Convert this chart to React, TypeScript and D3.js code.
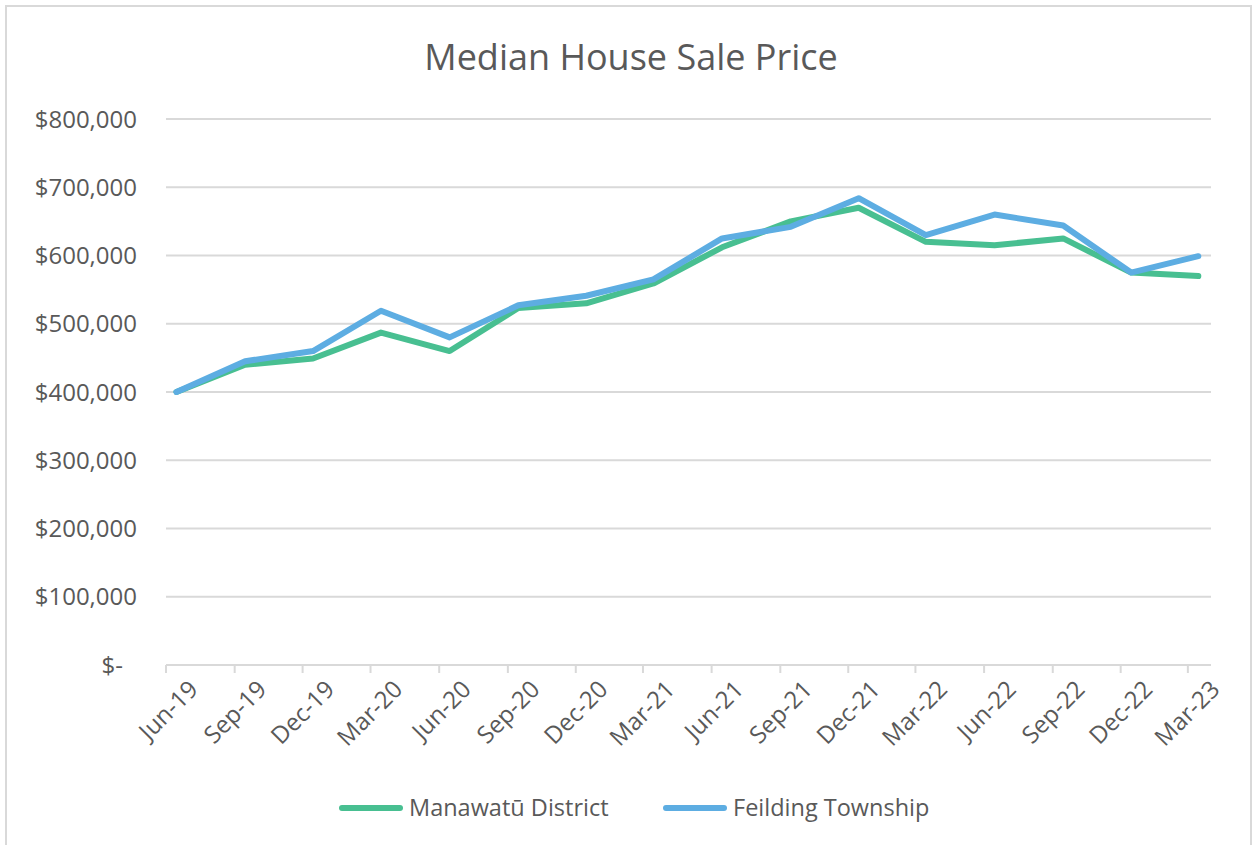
import React from "react";
import * as d3 from "d3";

const categories = ["Jun-19","Sep-19","Dec-19","Mar-20","Jun-20","Sep-20","Dec-20","Mar-21","Jun-21","Sep-21","Dec-21","Mar-22","Jun-22","Sep-22","Dec-22","Mar-23"];
const manawatu = [400000,440000,449000,487000,460000,523000,530000,559000,612000,650000,670000,620000,615000,625000,575000,570000];
const feilding = [400000,445000,460000,519000,480000,527000,541000,565000,625000,642000,684000,630000,660000,644000,575000,599000];
const yTicks = [0,100000,200000,300000,400000,500000,600000,700000,800000];
const seriesNames = ["Manawatū District","Feilding Township"];
const seriesColors = ["#48BF91","#5DADE2"];

const W = 1254, H = 845;
const FONT = "'Open Sans', sans-serif";
const TXT = "#595959";
const GRID = "#d9d9d9";

export default function App() {
  const tickDates = categories.map((_, i) => new Date(2019, 5 + 3 * i, 1));
  const pointDates = categories.map((_, i) => new Date(2019, 5 + 3 * i, 15));
  const x = d3.scaleTime().domain([new Date(2019, 5, 1), new Date(2023, 3, 1)]).range([166, 1211]);
  const y = d3.scaleLinear().domain([0, 800000]).range([665, 119]);
  const fmt = (v: number) => (v === 0 ? "$-" : "$" + d3.format(",")(v));
  const line = d3.line<number>().x((_, i) => x(pointDates[i])).y((d) => y(d));
  const series = [manawatu, feilding];
  const legendX = [342, 666];
  return (
    <svg width={W} height={H} style={{ position: "absolute", left: 0, top: 0, background: "#fff" }} fontFamily={FONT}>
      <rect x={6} y={6} width={1245} height={900} fill="#fff" stroke={GRID} strokeWidth={2} />
      <text x={631} y={70} textAnchor="middle" fontSize={36} fill={TXT}>Median House Sale Price</text>
      {yTicks.map((t) => (
        <g key={t}>
          {t !== 0 && <line x1={166} x2={1211} y1={y(t)} y2={y(t)} stroke={GRID} strokeWidth={2} />}
          <text x={t === 0 ? 123 : 137} y={y(t)} dy="0.36em" textAnchor="end" fontSize={24} fill={TXT}>{fmt(t)}</text>
        </g>
      ))}
      <line x1={166} x2={1211} y1={y(0)} y2={y(0)} stroke={GRID} strokeWidth={2} />
      {tickDates.map((d, i) => (
        <line key={i} x1={x(d)} x2={x(d)} y1={y(0)} y2={y(0) + 8} stroke={GRID} strokeWidth={2} />
      ))}
      {categories.map((c, i) => (
        <text key={c} transform={`translate(${x(pointDates[i]) + 11},${y(0) + 14}) rotate(-45)`} textAnchor="end" dy="0.7em" fontSize={24} fill={TXT}>{c}</text>
      ))}
      {series.map((s, k) => (
        <path key={k} d={line(s) || ""} fill="none" stroke={seriesColors[k]} strokeWidth={6} strokeLinecap="round" strokeLinejoin="round" />
      ))}
      {seriesNames.map((n, k) => (
        <g key={n}>
          <line x1={legendX[k]} x2={legendX[k] + 58} y1={808} y2={808} stroke={seriesColors[k]} strokeWidth={6} strokeLinecap="round" />
          <text x={legendX[k] + 67} y={808} dy="0.36em" fontSize={23.5} fill={TXT}>{n}</text>
        </g>
      ))}
    </svg>
  );
}
